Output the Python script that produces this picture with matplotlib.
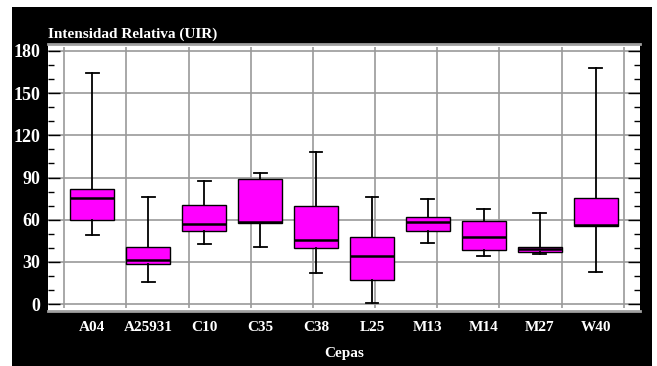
#BOXPLOT: INTENSIDAD RELATIVA (UIR) POR CEPA

#IMPORT USEFULL LIBRARIES
import numpy as np
import matplotlib
matplotlib.use('Agg')
import matplotlib.pyplot as plt
from matplotlib.patches import Rectangle

#DATA
cepas = ['A04', 'A25931', 'C10', 'C35', 'C38', 'L25', 'M13', 'M14', 'M27', 'W40']
whis_lo = [48.9, 15.8, 42.5, 40.6, 22.2, 0.7, 43.7, 34.5, 35.7, 22.9]
q1 = [60.0, 28.6, 51.7, 57.8, 39.9, 17.0, 51.7, 38.5, 37.4, 55.8]
medians = [75.6, 31.7, 56.7, 58.1, 45.4, 34.3, 58.6, 47.5, 39.2, 56.3]
q3 = [81.5, 40.9, 70.6, 89.1, 69.9, 47.7, 61.7, 58.8, 40.5, 75.1]
whis_hi = [164.4, 75.8, 87.2, 93.5, 108.2, 75.8, 74.4, 67.3, 64.7, 167.5]
y_ticks = [0, 30, 60, 90, 120, 150, 180]

stats = [dict(label=c, whislo=a, q1=b, med=m, q3=d, whishi=e)
         for c, a, b, m, d, e in zip(cepas, whis_lo, q1, medians, q3, whis_hi)]
positions = np.arange(1, len(cepas) + 1)

#DESIGN PART #1
fig = plt.figure(figsize=(6.57, 3.66), dpi=100)
fig.patch.set_facecolor('white')
fig.patches.append(Rectangle((12 / 657, 0), 640 / 657, 359 / 366, transform=fig.transFigure,
                             facecolor='black', edgecolor='none', zorder=-1))

ax = fig.add_axes([48 / 657, 55 / 366, 592 / 657, 267 / 366])
ax.set_facecolor('white')

# BOXES
ax.bxp(stats, positions=positions, widths=0.79, capwidths=0.23, patch_artist=True,
       showfliers=False, manage_ticks=False,
       boxprops=dict(facecolor='#ff00ff', edgecolor='black', linewidth=1.0),
       medianprops=dict(color='black', linewidth=1.8),
       whiskerprops=dict(color='black', linewidth=1.3),
       capprops=dict(color='black', linewidth=1.3))

# AXES LIMITS
ax.set_xlim(0.21, 10.79)
ax.set_ylim(-4.8, 184.8)

# GRID (VERTICAL GRID IS NOT ON THE BOXES, SAME AS ORIGINAL)
x_grid = np.linspace(0.5, 10.5, 10)
ax.vlines(x_grid, -2.5, 182.5, color='#9a9a9a', linewidth=1.2, zorder=0)
ax.set_xticks(positions, cepas)
ax.set_yticks(y_ticks)
ax.set_yticks(np.arange(0, 181, 10), minor=True)
ax.grid(True, axis='y', which='major', color='#9a9a9a', linewidth=1.2)
ax.set_axisbelow(True)

ax.tick_params(axis='x', which='both', length=0, pad=7, labelsize=11, labelcolor='white')
ax.tick_params(axis='y', which='both', direction='in', left=True, right=True, color='black', width=1)
ax.tick_params(axis='y', which='major', length=8.6, pad=5.8, labelsize=13, labelcolor='white')
ax.tick_params(axis='y', which='minor', length=4.3)

for lab in ax.get_xticklabels() + ax.get_yticklabels():
    lab.set_fontfamily('Liberation Serif')
    lab.set_fontweight('bold')

ax.spines['left'].set_visible(False)
ax.spines['right'].set_visible(False)
for side in ['top', 'bottom']:
    ax.spines[side].set_color('#a0a0a0')
    ax.spines[side].set_linewidth(2)

# ANNOTATIONS
fig.text(48 / 657, 0.898, 'Intensidad Relativa (UIR)', fontsize=11, fontweight='bold',
         fontfamily='Liberation Serif', color='white', ha='left', va='baseline')
fig.text(344 / 657, 0.0246, 'Cepas', fontsize=11, fontweight='bold',
         fontfamily='Liberation Serif', color='white', ha='center', va='baseline')

fig.savefig('out.png', dpi=100, facecolor=fig.get_facecolor())
